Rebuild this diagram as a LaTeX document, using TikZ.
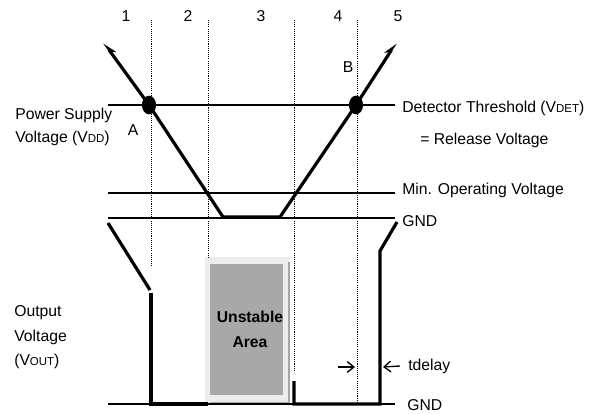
\documentclass[tikz,border=0pt]{standalone}
\usepackage{fontspec}
\setmainfont{Liberation Sans}
\usetikzlibrary{arrows.meta}
\newcommand{\lowtxt}[1]{{\fontsize{8.6}{9}\selectfont #1}}

\tikzset{
  lbl/.style={font=\fontsize{11.8}{14}\selectfont, inner sep=0pt},
  lvlline/.style={line width=1pt},
  wave/.style={line width=2.4pt},
  gridline/.style={line width=0.6pt, dash pattern=on 0.8pt off 0.8pt},
}

\begin{document}
\begin{tikzpicture}[x=0.75pt, y=-0.75pt]
\useasboundingbox (0,0) rectangle (590,414);

\node[lbl] (n1) at (126,16) {1};
\node[lbl] (n2) at (188,16) {2};
\node[lbl] (n3) at (261,16) {3};
\node[lbl] (n4) at (338,16) {4};
\node[lbl] (n5) at (398,16) {5};

\fill[black!7] (205,257) rectangle (289,403);
\draw[black!35, line width=0.8pt] (289,262) -- (289,403) -- (210,403);
\fill[black!34] (210,264) rectangle (283,395);
\node[lbl, font=\fontsize{11.8}{14}\selectfont\bfseries] (un) at (250,317) {Unstable};
\node[lbl, font=\fontsize{11.8}{14}\selectfont\bfseries] (ar) at (250,342) {Area};

\draw[gridline] (151,20) -- (151,267);
\draw[gridline] (208,20) -- (208,257);
\draw[gridline] (294,20) -- (294,372);
\draw[gridline] (357,20) -- (357,404);

\draw[lvlline] (108,105) -- (395,105);
\draw[lvlline] (108,193) -- (395,193);
\draw[lvlline] (108,218) -- (395,218);
\draw[lvlline] (108,404) -- (395,404);

\coordinate (A) at (149,105);
\coordinate (B) at (356,105);
\coordinate (p1) at (223,217);
\coordinate (p2) at (280,217);

\draw[wave, {Stealth[harpoon, swap, length=9pt, width=7pt]}-] (104,43) -- (A) -- (p1) -- (p2) -- (B);
\draw[wave, -{Stealth[harpoon, length=9pt, width=7pt]}] (B) -- (396,43);
\fill (A) ellipse [x radius=5.3pt, y radius=7pt];
\fill (B) ellipse [x radius=5.3pt, y radius=7pt];

\node[lbl] (la) at (133,130) {A};
\node[lbl] (lb) at (348,67) {B};

\node[lbl, anchor=west] (ps1) at (15,115) {Power Supply};
\node[lbl, anchor=west] (ps2) at (15,138) {Voltage (V\lowtxt{DD})};
\node[lbl, anchor=west] (det) at (402,108) {Detector Threshold (V\lowtxt{DET})};
\node[lbl, anchor=west] (rel) at (420,140) {= Release Voltage};
\node[lbl, anchor=west] (mo) at (402,190) {Min. Operating Voltage};
\node[lbl, anchor=west] (g1) at (402,221) {GND};
\node[lbl, anchor=west] (g2) at (407,405) {GND};

\draw[wave] (108,223) -- (150,290);
\draw[wave] (151,293) -- (151,404) -- (208,404);
\draw[wave] (294,381) -- (294,404) -- (380,404) -- (380,251) -- (397,222);

\node[lbl, anchor=west] (o1) at (14,313) {Output};
\node[lbl, anchor=west] (o2) at (14,337) {Voltage};
\node[lbl, anchor=west] (o3) at (14,361) {(V\lowtxt{OUT})};

\node[lbl, anchor=west] (td) at (408,366) {tdelay};
\draw[line width=1pt, -{Straight Barb[length=5pt, width=8pt]}] (338,367) -- (355,367);
\draw[line width=1pt, -{Straight Barb[length=5pt, width=8pt]}] (td.west) ++(-8,0) coordinate (t0) (t0) -- (383,367);

\end{tikzpicture}
\end{document}
